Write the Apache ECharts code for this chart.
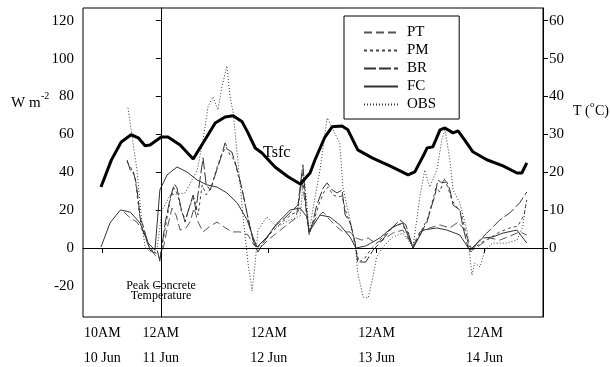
<!DOCTYPE html>
<html>
<head>
<meta charset="UTF-8">
<title>Surface flux and temperature, 10-14 Jun</title>
<script src="https://cdn.jsdelivr.net/npm/echarts@6/dist/echarts.min.js"></script>
<style>html,body{margin:0;background:#fff}</style>
</head>
<body>
<div id="chart" style="width:610px;height:367px;"></div>
<script>
// x = hours from 12AM 11 Jun, y = W m-2 (Tsfc in deg C)
const xTickValues = [-13, 0, 24, 48, 72];
const xTickLabels = ['10AM\n10 Jun', '12AM\n11 Jun', '12AM\n12 Jun', '12AM\n13 Jun', '12AM\n14 Jun'];
const fluxTicks = [-20, 0, 20, 40, 60, 80, 100, 120];
const tempTicks = [0, 10, 20, 30, 40, 50, 60];

const PT = [[-8.2,19.0],[-6.8,15.9],[-5.3,13.7],[-3.9,8.5],[-2.8,1.6],[-1.3,-3.7],[-0.2,-6.3],[0.7,1.6],
  [1.6,12.2],[2.5,21.1],[3.4,17.4],[4.3,9.5],[5.6,10.6],[6.5,13.7],[7.4,21.1],[8.3,13.7],[9.4,8.5],
  [11.0,11.6],[12.5,13.7],[14.1,11.1],[15.8,8.5],[17.6,8.5],[19.4,6.9],[20.7,1.6],[22.1,0],[23.8,4.2],
  [26.1,8.5],[28.3,12.7],[30.1,15.9],[31.4,35.9],[32.3,20.1],[33.0,8.5],[34.5,15.9],[36.1,19.0],
  [37.6,14.8],[39.2,11.1],[40.5,8.5],[42.1,8.5],[43.4,5.3],[44.7,4.2],[46.1,5.3],[47.7,2.6],[49.4,4.2],
  [51.6,7.9],[53.8,9.5],[56.1,1.1],[57.6,8.5],[59.8,10.6],[62.1,12.2],[64.3,10.6],[66.1,13.7],
  [67.6,9.5],[69.2,-1.1],[71.0,1.6],[73.2,5.3],[75.4,4.2],[77.6,6.3],[79.8,8.5],[81.4,6.9]];

const PM = [[-7.5,45.5],[-6.6,42.3],[-5.7,37.0],[-5.0,22.7],[-4.4,12.2],[-3.5,6.9],[-2.4,0],[-1.3,-2.1],
  [-0.2,-5.3],[1.0,10.6],[2.1,25.4],[3.0,31.7],[3.8,28.0],[4.7,18.0],[5.6,15.9],[6.5,22.7],[7.4,26.4],
  [8.3,17.4],[9.2,33.3],[10.1,28.0],[11.2,31.7],[12.3,41.2],[13.4,48.6],[14.5,53.4],[15.4,49.2],
  [16.3,46.5],[17.2,38.6],[18.1,30.7],[19.0,20.1],[20.1,8.5],[21.2,0],[22.5,2.1],[24.7,8.5],[27.0,13.7],
  [29.2,18.0],[30.5,19.0],[31.4,40.2],[32.3,21.1],[33.0,7.9],[34.1,14.8],[35.2,23.3],[36.3,29.6],
  [37.2,32.2],[38.3,28.0],[39.4,27.0],[40.3,27.5],[41.2,19.0],[42.3,11.6],[43.2,1.6],[44.1,-7.4],
  [45.4,-5.3],[46.9,0],[48.7,4.2],[51.4,10.6],[53.2,12.7],[54.7,9.5],[56.1,0.5],[57.8,8.5],[59.4,15.9],
  [60.5,25.4],[61.2,31.7],[62.1,29.6],[63.0,37.0],[63.9,31.7],[64.7,25.4],[65.6,22.2],[66.7,19.0],
  [67.6,10.6],[68.5,1.1],[69.4,-1.1],[71.0,2.6],[73.2,5.3],[75.4,8.5],[77.6,10.6],[79.4,11.6],
  [80.8,17.4],[81.4,25.4]];

const BR = [[-7.5,46.5],[-6.8,41.2],[-6.2,41.2],[-5.5,34.4],[-5.0,25.4],[-4.6,15.9],[-3.9,11.6],
  [-3.3,6.3],[-2.4,-1.1],[-1.5,-2.6],[-0.8,-1.1],[-0.2,-6.9],[1.0,13.7],[2.1,26.4],[3.0,33.8],
  [3.6,31.7],[4.5,21.1],[5.4,13.7],[6.3,21.1],[7.2,28.0],[7.8,20.1],[8.7,35.9],[9.4,47.6],[10.1,33.3],
  [11.0,30.7],[12.1,38.6],[13.2,46.5],[14.3,55.5],[15.0,51.8],[15.8,50.7],[16.7,43.9],[17.6,35.9],
  [18.5,26.4],[19.4,15.9],[20.5,4.2],[21.6,-2.1],[23.2,4.2],[25.4,11.6],[27.6,15.9],[29.4,20.1],
  [30.5,22.7],[31.6,43.9],[32.3,22.7],[33.0,6.9],[33.8,13.7],[34.7,22.7],[36.1,31.7],[37.0,34.4],
  [38.1,30.7],[39.2,29.1],[40.3,30.7],[41.0,17.4],[42.1,13.7],[43.2,3.2],[43.8,-7.4],[45.6,-7.4],
  [47.2,-1.1],[48.7,2.6],[51.6,11.1],[53.2,14.8],[54.5,12.2],[56.1,0],[57.6,6.9],[59.2,13.7],
  [60.3,22.7],[61.0,28.0],[61.6,35.9],[62.5,34.4],[63.6,34.9],[64.3,30.7],[65.0,22.7],[65.9,21.1],
  [66.5,20.1],[67.2,11.1],[68.3,0.5],[69.0,-2.1],[70.5,3.2],[72.5,7.9],[75.4,14.8],[77.6,18.5],
  [79.8,23.8],[81.4,29.6]];

const FC = [[-13.3,0.5],[-11.3,13.2],[-9.0,20.1],[-6.8,19.0],[-4.6,13.2],[-2.8,2.6],[-1.3,-1.1],
  [-0.2,30.7],[1.4,38.6],[3.6,42.8],[5.8,40.2],[8.1,35.9],[10.3,33.3],[12.5,32.2],[14.7,29.1],
  [17.0,23.8],[19.2,14.8],[20.5,5.8],[21.4,0.5],[23.6,5.8],[25.9,13.2],[28.8,20.1],[31.0,21.1],
  [32.5,16.4],[33.0,8.5],[35.4,17.4],[37.6,16.4],[39.8,12.2],[42.1,5.8],[43.4,0],[45.6,1.1],
  [48.7,5.3],[51.6,11.1],[53.8,13.2],[56.1,0],[58.3,9.5],[61.4,10.6],[63.6,9.5],[66.5,6.9],
  [68.7,-1.1],[71.6,5.3],[73.8,5.8],[76.1,7.9],[79.2,9.5],[81.4,2.6]];

const OBS = [[-7.3,74.0],[-5.3,41.2],[-4.2,13.2],[-3.5,0.5],[-2.4,-2.1],[-0.8,0.5],[0.3,20.1],
  [2.1,28.0],[5.4,29.1],[8.1,41.2],[9.4,57.1],[10.5,74.5],[11.6,79.8],[12.7,72.9],[13.6,85.1],
  [14.7,96.2],[15.4,79.8],[16.1,71.4],[17.2,44.9],[18.3,16.4],[19.4,-7.9],[20.3,-22.7],[21.0,-7.9],
  [21.6,9.5],[23.6,16.4],[25.8,11.1],[28.7,14.8],[31.0,16.9],[31.8,38.6],[32.5,22.7],[33.0,8.5],
  [33.8,20.1],[35.4,41.2],[37.0,68.7],[38.3,62.4],[39.8,55.5],[40.5,32.2],[42.1,14.8],[43.2,2.6],
  [43.8,-13.2],[45.0,-25.9],[46.1,-26.4],[46.9,-18.5],[48.0,-4.8],[49.4,0.5],[51.6,5.8],[53.8,7.9],
  [56.1,0.5],[57.6,27.0],[58.7,41.2],[59.8,32.2],[61.4,41.2],[62.5,57.1],[63.2,62.4],[64.3,46.5],
  [65.0,30.7],[66.5,23.8],[68.1,9.5],[69.2,-14.3],[69.8,-7.9],[71.0,-10.0],[72.1,-1.1],[73.8,2.6],
  [76.9,2.6],[79.2,4.2],[80.5,11.1],[81.2,23.8]];

const Tsfc = [[-13.3,16.1],[-11.0,23.2],[-8.8,28.0],[-6.6,29.9],[-5.0,29.1],[-3.5,27.0],[-2.4,27.2],
  [0.1,29.3],[1.6,29.3],[4.3,27.2],[7.2,23.5],[9.8,28.5],[12.1,33.0],[14.3,34.6],[16.1,34.9],
  [18.1,33.3],[19.4,30.4],[21.0,26.4],[22.5,25.1],[25.4,21.4],[28.3,18.8],[31.0,16.9],[33.2,19.8],
  [34.3,23.3],[36.5,29.3],[38.1,32.0],[40.3,32.2],[41.6,31.2],[43.8,25.9],[47.0,23.8],[51.4,21.4],
  [55.0,19.3],[56.5,20.1],[58.7,25.1],[59.2,26.4],[60.5,26.7],[62.1,31.2],[63.2,31.7],[65.0,30.4],
  [66.1,30.9],[67.6,28.5],[69.4,25.4],[72.5,23.3],[76.1,21.7],[79.2,19.8],[80.3,19.8],[81.4,22.5]];

const serif = 'Liberation Serif';
const chart = echarts.init(document.getElementById('chart'));

function flux(name, data, dash, color) {
  return {
    name: name, type: 'line', data: data, symbol: 'none', animation: false,
    lineStyle: { color: color, width: 1, type: dash },
    itemStyle: { color: color }
  };
}

const fc = flux('FC', FC, 'solid', '#333');
fc.markLine = {
  silent: true, symbol: 'none', animation: false, label: { show: false },
  lineStyle: { color: '#000', width: 1, type: 'solid' },
  data: [
    { xAxis: 0 },
    [{ coord: [-14, 0] }, { coord: [85, 0] }]
  ]
};

chart.setOption({
  animation: false,
  grid: {
    left: 83, right: 67, top: 8, bottom: 50, outerBoundsMode: 'none',
    show: true, borderColor: '#000', borderWidth: 1
  },
  legend: {
    orient: 'vertical', left: 344, top: 16,
    data: ['PT', 'PM', 'BR', 'FC', 'OBS'],
    itemWidth: 34, itemHeight: 12, itemGap: 3,
    padding: [9, 23, 7, 19],
    borderColor: '#000', borderWidth: 1, backgroundColor: '#fff',
    itemStyle: { opacity: 0 },
    textStyle: { fontFamily: serif, fontSize: 15, color: '#000', lineHeight: 15, padding: [0, 0, 0, 4] }
  },
  xAxis: {
    type: 'value', min: -17.3, max: 85,
    axisLine: { show: true, lineStyle: { color: '#000' } },
    splitLine: { show: false },
    axisTick: { customValues: xTickValues, length: 5, lineStyle: { color: '#000' } },
    axisLabel: {
      customValues: xTickValues, margin: 4,
      fontFamily: serif, fontSize: 14, color: '#000', lineHeight: 25,
      formatter: v => xTickLabels[xTickValues.indexOf(v)] || ''
    }
  },
  yAxis: [{
    type: 'value', min: -36.4, max: 126.7,
    axisLine: { show: true, lineStyle: { color: '#000' } },
    splitLine: { show: false },
    axisTick: { show: true, customValues: fluxTicks, length: 5, lineStyle: { color: '#000' } },
    axisLabel: { customValues: fluxTicks, margin: 9, fontFamily: serif, fontSize: 15, color: '#000' }
  }, {
    type: 'value', min: -18.2, max: 63.35, position: 'right',
    axisLine: { show: true, lineStyle: { color: '#000' } },
    splitLine: { show: false },
    axisTick: { show: true, customValues: tempTicks, length: 5, lineStyle: { color: '#000' } },
    axisLabel: { customValues: tempTicks, margin: 6, fontFamily: serif, fontSize: 15, color: '#000' }
  }],
  series: [
    flux('PT', PT, [8, 4], '#555'),
    flux('PM', PM, [3, 3], '#444'),
    flux('BR', BR, [12, 3], '#333'),
    fc,
    flux('OBS', OBS, [1, 2], '#333'),
    {
      name: 'Tsfc', type: 'line', yAxisIndex: 1, data: Tsfc, symbol: 'none',
      lineStyle: { color: '#000', width: 3 }
    }
  ],
  graphic: [
    { type: 'text', left: 11, top: 96, style: { text: 'W m', font: '15px "Liberation Serif"', fill: '#000' } },
    { type: 'text', left: 41, top: 91, style: { text: '-2', font: '10px "Liberation Serif"', fill: '#000' } },
    { type: 'text', left: 573, top: 104, style: { text: 'T (', font: '14px "Liberation Serif"', fill: '#000' } },
    { type: 'text', left: 590, top: 100, style: { text: 'o', font: '9px "Liberation Serif"', fill: '#000' } },
    { type: 'text', left: 595, top: 104, style: { text: 'C)', font: '14px "Liberation Serif"', fill: '#000' } },
    { type: 'text', left: 263, top: 145, style: { text: 'Tsfc', font: '16px "Liberation Serif"', fill: '#000' } },
    { type: 'text', x: 161, y: 281, style: {
      text: 'Peak Concrete\nTemperature', font: '12px "Liberation Serif"', fill: '#000',
      align: 'center', verticalAlign: 'top', lineHeight: 10 } }
  ]
});
</script>
</body>
</html>
